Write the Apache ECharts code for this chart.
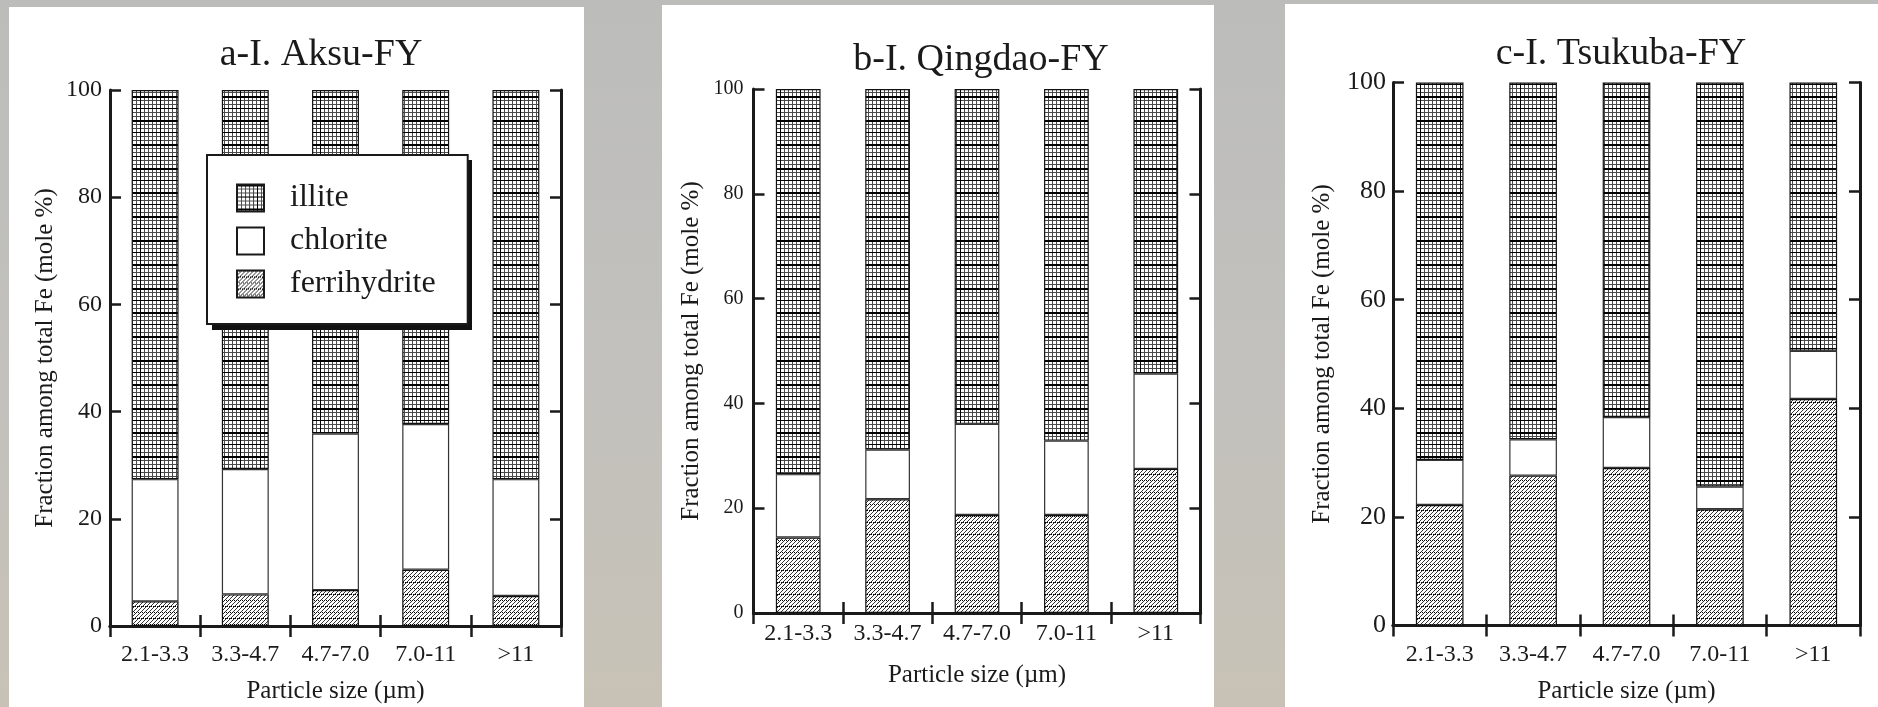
<!DOCTYPE html>
<html>
<head>
<meta charset="utf-8">
<script src="https://cdn.jsdelivr.net/npm/echarts@6/dist/echarts.min.js"></script>
<style>
  html, body { margin: 0; padding: 0; }
  body {
    width: 1878px; height: 707px; overflow: hidden;
    background: linear-gradient(180deg, #bcbcbb 0%, #c2c1bd 55%, #c8c2b6 100%);
  }
  #chart { width: 1878px; height: 707px; }
</style>
</head>
<body>
<div id="chart"></div>
<script>
// 粒径分类
const categories = ['2.1-3.3', '3.3-4.7', '4.7-7.0', '7.0-11', '>11']
const yTicks = [0, 20, 40, 60, 80, 100]

// a-I. Aksu-FY
const aksuFerri = [4.6, 5.9, 6.7, 10.5, 5.6]
const aksuChlorite = [22.8, 23.4, 29.2, 27.2, 21.8]
const aksuIllite = [72.6, 70.7, 64.1, 62.3, 72.6]

// b-I. Qingdao-FY
const qingdaoFerri = [14.4, 21.7, 18.7, 18.7, 27.5]
const qingdaoChlorite = [12.1, 9.5, 17.4, 14.2, 18.2]
const qingdaoIllite = [73.5, 68.8, 63.9, 67.1, 54.3]

// c-I. Tsukuba-FY
const tsukubaFerri = [22.2, 27.6, 29.0, 21.4, 41.7]
const tsukubaChlorite = [8.3, 6.7, 9.4, 4.2, 8.9]
const tsukubaIllite = [69.5, 65.7, 61.6, 74.4, 49.4]

const titles = ['a-I. Aksu-FY', 'b-I. Qingdao-FY', 'c-I. Tsukuba-FY']
const seriesNames = ['illite', 'chlorite', 'ferrihydrite']

const FONT = '"Liberation Serif", "Times New Roman", serif'
const INK = '#1a1a1a'

// 填充纹理：细网格（illite）
const makeGridPattern = () => {
  const c = document.createElement('canvas')
  c.width = 20
  c.height = 24
  const ctx = c.getContext('2d')
  ctx.fillStyle = '#fff'
  ctx.fillRect(0, 0, 20, 24)
  ctx.fillStyle = '#4a4a4a'
  for (let y = 0; y < 24; y += 4) ctx.fillRect(0, y, 20, 1)
  for (let x = 0; x < 20; x += 4) ctx.fillRect(x, 0, 1, 24)
  ctx.fillStyle = '#000'
  ctx.fillRect(0, 0, 20, 2)
  ctx.fillRect(0, 12, 20, 1)
  ctx.fillRect(0, 0, 1, 24)
  return c
}

// 填充纹理：斜线 + 点行（ferrihydrite）
const makeHatchPattern = () => {
  const c = document.createElement('canvas')
  c.width = 8
  c.height = 12
  const ctx = c.getContext('2d')
  ctx.fillStyle = '#fff'
  ctx.fillRect(0, 0, 8, 12)
  ctx.fillStyle = '#333'
  for (let y = 0; y < 12; y++) {
    for (let x = 0; x < 8; x++) {
      if ((x + y) % 4 === 0) ctx.fillRect(x, y, 1, 1)
    }
  }
  ctx.fillStyle = '#000'
  for (let x = 0; x < 8; x += 2) {
    ctx.fillRect(x, 0, 1, 1)
    ctx.fillRect(x + 1, 6, 1, 1)
  }
  return c
}

const illiteFill = { image: makeGridPattern(), repeat: 'repeat' }
const ferriFill = { image: makeHatchPattern(), repeat: 'repeat' }

// 每个面板的布局
const panels = [
  {
    card: [9, 7, 575, 700],
    grid: { left: 110, top: 90, width: 451, height: 536 },
    title: [316, 31],
    barWidth: '52%',
    yLabelSize: 24, yLabelMargin: 8, yNameGap: 52,
    xLabelMargin: 17, xNameGap: 53,
    data: [aksuIllite, aksuChlorite, aksuFerri]
  },
  {
    card: [662, 5, 552, 702],
    grid: { left: 753.5, top: 89, width: 447, height: 524 },
    title: [976, 36],
    barWidth: '50%',
    yLabelSize: 20, yLabelMargin: 10, yNameGap: 50,
    xLabelMargin: 9, xNameGap: 50,
    data: [qingdaoIllite, qingdaoChlorite, qingdaoFerri]
  },
  {
    card: [1285, 4, 593, 703],
    grid: { left: 1393, top: 82.5, width: 467, height: 543 },
    title: [1616, 30],
    barWidth: '51%',
    yLabelSize: 26, yLabelMargin: 7, yNameGap: 58,
    xLabelMargin: 17, xNameGap: 53,
    data: [tsukubaIllite, tsukubaChlorite, tsukubaFerri]
  }
]

// 图例框位置（a 面板内）
const legendBox = { left: 207, top: 155, width: 260, height: 170 }

const frameLine = { show: true, lineStyle: { color: INK, width: 3 } }
const tickStyle = { show: true, inside: true, length: 11, lineStyle: { color: INK, width: 2.5 } }

const grid = []
const xAxis = []
const yAxis = []
const series = []
const title = []
const graphic = []

panels.forEach((p, i) => {
  graphic.push({
    type: 'rect', z: -10, silent: true,
    shape: { x: p.card[0], y: p.card[1], width: p.card[2], height: p.card[3] },
    style: { fill: '#fff' }
  })
  title.push({
    text: titles[i],
    left: p.title[0], top: p.title[1], textAlign: 'center',
    textStyle: { fontFamily: FONT, fontSize: 38, fontWeight: 'normal', color: INK }
  })
  grid.push({ ...p.grid, containLabel: false, outerBoundsMode: 'none' })

  xAxis.push({
    type: 'category', gridIndex: i, position: 'bottom', data: categories,
    axisLine: frameLine, axisTick: { ...tickStyle, interval: 0 },
    axisLabel: { fontFamily: FONT, fontSize: 24, color: INK, margin: p.xLabelMargin, interval: 0 },
    name: 'Particle size (\u00b5m)', nameLocation: 'middle', nameGap: p.xNameGap,
    nameTextStyle: { fontFamily: FONT, fontSize: 25, color: INK }
  })
  xAxis.push({
    type: 'category', gridIndex: i, position: 'top', data: categories,
    axisLine: frameLine, axisTick: { ...tickStyle, interval: 0 },
    axisLabel: { show: false }
  })

  yAxis.push({
    type: 'value', gridIndex: i, position: 'left',
    min: yTicks[0], max: yTicks[yTicks.length - 1], interval: 20,
    splitLine: { show: false },
    axisLine: frameLine, axisTick: tickStyle,
    axisLabel: { fontFamily: FONT, fontSize: p.yLabelSize, color: INK, margin: p.yLabelMargin },
    name: 'Fraction among total Fe (mole %)', nameLocation: 'middle', nameGap: p.yNameGap,
    nameTextStyle: { fontFamily: FONT, fontSize: 25, color: INK }
  })
  yAxis.push({
    type: 'value', gridIndex: i, position: 'right',
    min: 0, max: 100, interval: 20,
    splitLine: { show: false },
    axisLine: frameLine, axisTick: tickStyle,
    axisLabel: { show: false }
  })

  // 堆叠顺序：ferrihydrite 在底部，chlorite 中间，illite 顶部
  const [illite, chlorite, ferri] = p.data
  const stack = 'p' + i
  const common = {
    type: 'bar', stack, xAxisIndex: i * 2, yAxisIndex: i * 2,
    barWidth: p.barWidth, silent: true
  }
  series.push({
    ...common, name: 'ferrihydrite', data: ferri,
    itemStyle: { color: ferriFill, borderColor: '#111', borderWidth: 1.2 }
  })
  series.push({
    ...common, name: 'chlorite', data: chlorite,
    itemStyle: { color: '#fff', borderColor: '#333', borderWidth: 1.2 }
  })
  series.push({
    ...common, name: 'illite', data: illite,
    itemStyle: { color: illiteFill, borderColor: '#111', borderWidth: 1.2 }
  })
})

// 图例的实心投影
graphic.push({
  type: 'rect', z: 3, silent: true,
  shape: { x: legendBox.left + 5, y: legendBox.top + 5, width: legendBox.width, height: legendBox.height },
  style: { fill: '#111' }
})

const chart = echarts.init(document.getElementById('chart'), null, { renderer: 'canvas' })

chart.setOption({
  animation: false,
  aria: { enabled: false },
  title,
  graphic,
  grid,
  xAxis,
  yAxis,
  legend: {
    data: seriesNames,
    orient: 'vertical',
    left: legendBox.left, top: legendBox.top,
    padding: [27, 32, 24, 29],
    itemWidth: 27, itemHeight: 27, itemGap: 11,
    icon: 'rect',
    backgroundColor: '#fff',
    borderColor: INK, borderWidth: 2,
    z: 5,
    itemStyle: { borderColor: INK, borderWidth: 2 },
    textStyle: { fontFamily: FONT, fontSize: 32, color: INK, padding: [0, 0, 0, 21] },
    selectedMode: false
  },
  series
})
</script>
</body>
</html>
